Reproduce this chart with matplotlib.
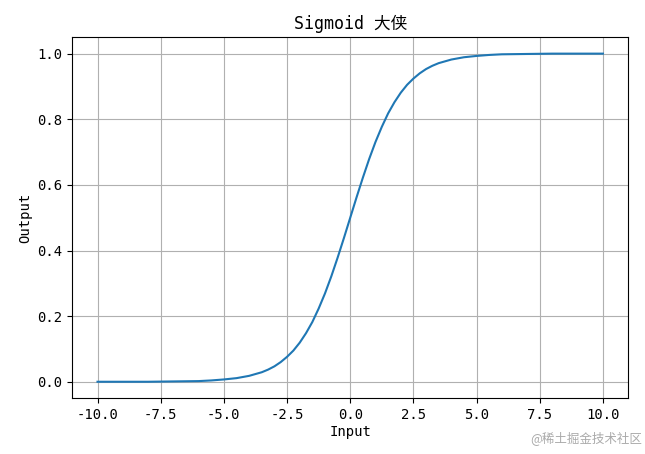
import matplotlib
matplotlib.use("Agg")
import matplotlib.pyplot as plt

plt.rcParams['font.family'] = ['DejaVu Sans Mono', 'Noto Sans CJK SC']
plt.rcParams['axes.unicode_minus'] = False

# values
x_vals = [-10.0, -9.0, -8.0, -7.0, -6.0, -5.5, -5.0, -4.5, -4.0, -3.5, -3.25, -3.0,
          -2.75, -2.5, -2.25, -2.0, -1.75, -1.5, -1.25, -1.0, -0.75, -0.5, -0.25, 0.0,
          0.25, 0.5, 0.75, 1.0, 1.25, 1.5, 1.75, 2.0, 2.25, 2.5, 2.75, 3.0,
          3.25, 3.5, 4.0, 4.5, 5.0, 5.5, 6.0, 7.0, 8.0, 9.0, 10.0]
y_vals = [0.000, 0.000, 0.000, 0.001, 0.002, 0.004, 0.007, 0.011, 0.018, 0.029, 0.037, 0.047,
          0.060, 0.076, 0.095, 0.119, 0.148, 0.182, 0.223, 0.269, 0.321, 0.378, 0.438, 0.500,
          0.562, 0.622, 0.679, 0.731, 0.777, 0.818, 0.852, 0.881, 0.905, 0.924, 0.940, 0.953,
          0.963, 0.971, 0.982, 0.989, 0.993, 0.996, 0.998, 0.999, 1.000, 1.000, 1.000]
x_ticks = [-10.0, -7.5, -5.0, -2.5, 0.0, 2.5, 5.0, 7.5, 10.0]

fig = plt.figure(figsize=(6.45, 4.54), dpi=100)
ax = fig.add_axes([0.112, 0.123, 0.862, 0.795])

ax.plot(x_vals, y_vals, color='#1f77b4', linewidth=1.5)
ax.set_xticks(x_ticks)
ax.set_xticklabels([f'{t:.1f}' for t in x_ticks])
ax.set_yticks([0.0, 0.2, 0.4, 0.6, 0.8, 1.0])
ax.set_xlim(-11.0, 11.0)
ax.set_ylim(-0.05, 1.05)
ax.grid(True)
ax.tick_params(labelsize=10)
ax.set_title('Sigmoid 大侠', fontsize=12)
ax.set_xlabel('Input', fontsize=10, labelpad=2)
ax.set_ylabel('Output', fontsize=10)

fig.text(0.995, 0.02, '@稀土掘金技术社区', ha='right', va='bottom', fontsize=9,
         color='#aaaaaa', family=['Noto Sans CJK SC'])

fig.savefig('out.png', dpi=100)
